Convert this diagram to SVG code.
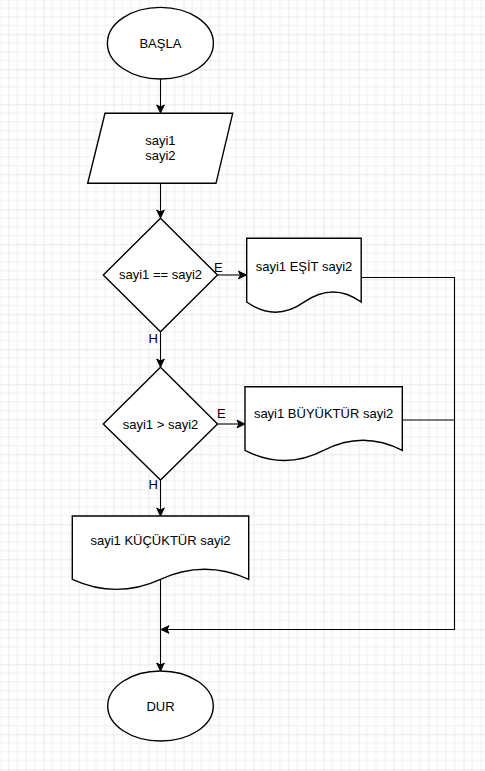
<svg xmlns="http://www.w3.org/2000/svg" width="485" height="771" viewBox="0 0 485 771">
<style>
.shape{fill:#fff;stroke:#000;stroke-width:1.4}
.edge{fill:none;stroke:#000;stroke-width:1.1}
.t{font-family:"Liberation Sans",Arial,sans-serif;font-size:13px;fill:#000;text-anchor:middle}
.lbl{font-family:"Liberation Sans",Arial,sans-serif;font-size:13px;fill:#000}
</style>
<defs>
<pattern id="grid" patternUnits="userSpaceOnUse" x="8.5" y="-0.7" width="35" height="35">
<path d="M8.75 0V35M17.5 0V35M26.25 0V35M0 8.75H35M0 17.5H35M0 26.25H35" stroke="#efefef" stroke-width="1" fill="none"/>
<path d="M0 0V35M0 0H35" stroke="#d6d6d6" stroke-width="1" fill="none"/>
</pattern>
<marker id="arr" markerUnits="userSpaceOnUse" markerWidth="10" markerHeight="10" viewBox="0 0 10 10" refX="9" refY="5" orient="auto">
<path d="M1,1.2 L9,5 L1,8.8 L3,5 Z" fill="#000" stroke="#000" stroke-width="1"/>
</marker>
</defs>
<rect x="0" y="0" width="485" height="771" fill="#fff"/>
<rect x="0" y="0" width="485" height="771" fill="url(#grid)"/>
<g id="connectors">
<line class="edge" x1="160.5" y1="79" x2="160.5" y2="113" marker-end="url(#arr)"/>
<line class="edge" x1="160.5" y1="183.3" x2="160.5" y2="218" marker-end="url(#arr)"/>
<line class="edge" x1="217.5" y1="275" x2="246.5" y2="275" marker-end="url(#arr)"/>
<line class="edge" x1="160.5" y1="331.7" x2="160.5" y2="367" marker-end="url(#arr)"/>
<line class="edge" x1="217.5" y1="424" x2="245" y2="424" marker-end="url(#arr)"/>
<line class="edge" x1="160.5" y1="480" x2="160.5" y2="516" marker-end="url(#arr)"/>
<line class="edge" x1="160.5" y1="580" x2="160.5" y2="671" marker-end="url(#arr)"/>
<polyline class="edge" points="361,277.5 454.5,277.5 454.5,629.5 161,629.5" marker-end="url(#arr)"/>
<line class="edge" x1="402.3" y1="420" x2="454.5" y2="420"/>
<text class="lbl" x="214" y="271.5">E</text>
<text class="lbl" x="148.5" y="342.5">H</text>
<text class="lbl" x="217" y="418">E</text>
<text class="lbl" x="148.5" y="489">H</text>
</g>
<g id="start">
<ellipse class="shape" cx="160.4" cy="43.2" rx="53" ry="35.8"/>
<text class="t" x="160.4" y="47.6">BAŞLA</text>
</g>
<g id="input">
<polygon class="shape" points="105,113.3 232.7,113.3 216,183.3 87.7,183.3"/>
<text class="t" x="160.4" y="145">sayi1</text>
<text class="t" x="160.4" y="160">sayi2</text>
</g>
<g id="decision1">
<polygon class="shape" points="160.5,218.3 217.5,275 160.5,331.7 103.3,275"/>
<text class="t" x="160.5" y="279">sayi1 == sayi2</text>
</g>
<g id="equal">
<path class="shape" d="M246.7,238.3H361.2V302.05Q333.6,281.8 303.95,302.05Q275.3,322.3 246.7,302.05Z"/>
<text class="t" x="304" y="270.5">sayi1 EŞİT sayi2</text>
</g>
<g id="decision2">
<polygon class="shape" points="160.5,367.3 217.5,424 160.5,480 103.3,424"/>
<text class="t" x="160.5" y="428.5">sayi1 &gt; sayi2</text>
</g>
<g id="greater">
<path class="shape" d="M245,386.7H402.3V450.45Q363,430.2 323.65,450.45Q284.3,470.7 245,450.45Z"/>
<text class="t" x="323.6" y="417.6">sayi1 BÜYÜKTÜR sayi2</text>
</g>
<g id="less">
<path class="shape" d="M72.3,516H248.7V579.3Q204.6,559.2 160.5,579.3Q116.4,599.4 72.3,579.3Z"/>
<text class="t" x="160.5" y="545.3">sayi1 KÜÇÜKTÜR sayi2</text>
</g>
<g id="end">
<ellipse class="shape" cx="160.5" cy="706" rx="52.8" ry="35"/>
<text class="t" x="160.5" y="710.6">DUR</text>
</g>
</svg>
